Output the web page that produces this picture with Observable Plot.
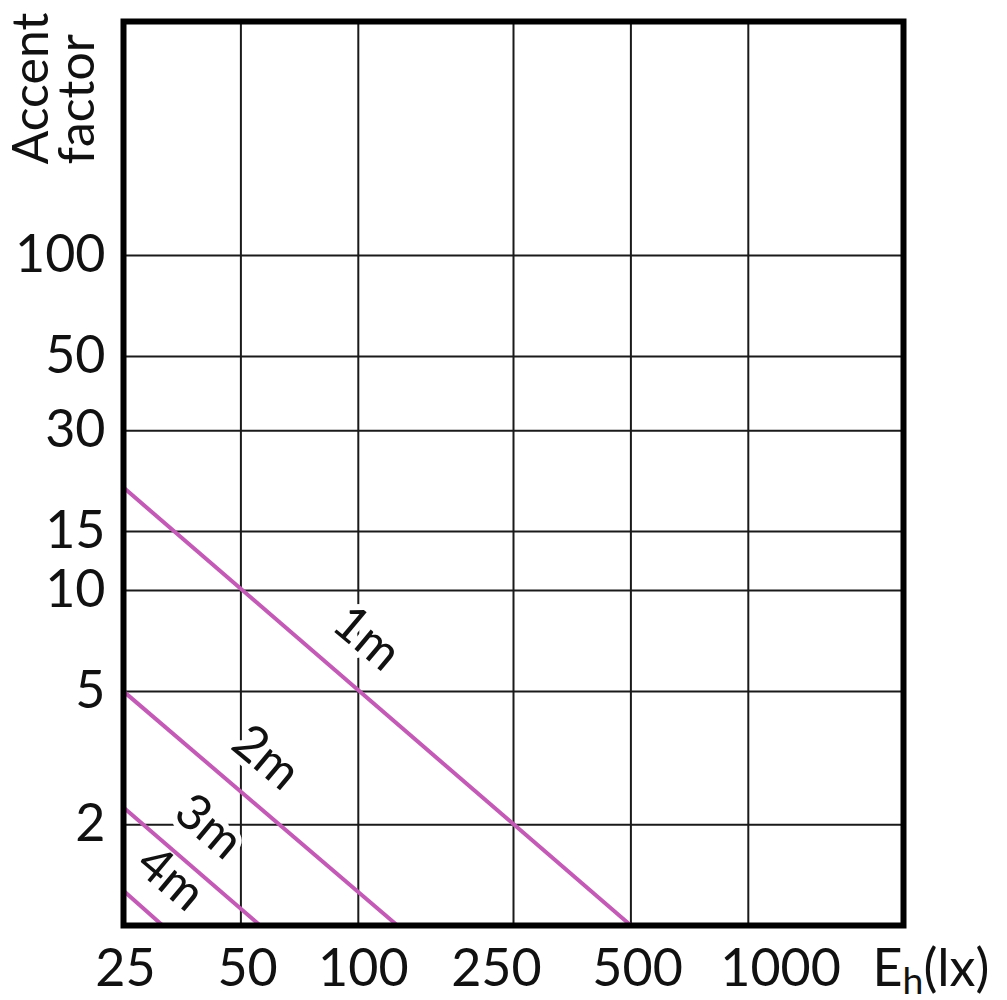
<!DOCTYPE html>
<html><head><meta charset="utf-8">
<script src="https://cdn.jsdelivr.net/npm/d3@7"></script>
<script src="https://cdn.jsdelivr.net/npm/@observablehq/plot@0.6"></script>
<style>html,body{margin:0;padding:0;background:#fff;overflow:hidden}</style>
</head><body><div id="chart"></div>
<script>
// Tick values (grid lines)
const xTicks = [25, 50, 100, 250, 500, 1000];
const yTicks = [2, 5, 10, 15, 30, 50, 100];
// Where each x tick label is centred (250 and 1000 sit off their lines)
const xTickLabelAt = [25.3, 52, 103, 226, 520, 1210];
// Series: mounting distance, start and end of each straight log-log line
const distances = ["1m", "2m", "3m", "4m"];
const startLux = [25, 25, 25, 25];
const startFactor = [20.3, 5.0, 2.25, 1.27];
const endLux = [500, 126, 56, 31.5];
const endFactor = [1, 1, 1, 1];
// Label anchor positions
const labelLux = [105, 58, 41.3, 33];
const labelFactor = [7.2, 3.17, 1.97, 1.38];

const lines = distances.map((d, i) => ({d, x1: startLux[i], y1: startFactor[i], x2: endLux[i], y2: endFactor[i]}));
const labels = distances.map((d, i) => ({d, x: labelLux[i], y: labelFactor[i]}));
const xLabels = xTicks.map((t, i) => ({t: String(t), x: xTickLabelAt[i]}));

const FONT = "Lato";
const FS = 52;

const chart = Plot.plot({
  width: 1007,
  height: 1000,
  marginLeft: 123,
  marginRight: 104,
  marginTop: 21,
  marginBottom: 75,
  style: {fontFamily: FONT, fontSize: FS + "px", color: "#111", background: "#fff"},
  x: {type: "log", domain: [25, 2500], axis: null},
  y: {type: "log", domain: [1, 500]},
  marks: [
    Plot.gridX(xTicks, {stroke: "#1a1a1a", strokeOpacity: 1, strokeWidth: 2}),
    Plot.gridY(yTicks, {stroke: "#1a1a1a", strokeOpacity: 1, strokeWidth: 2}),
    Plot.text(xLabels, {x: "x", frameAnchor: "bottom", text: "t", lineAnchor: "top", dy: 24, fontSize: FS, fill: "#111"}),
    Plot.axisY(yTicks, {tickSize: 0, tickPadding: 18, tickFormat: d => String(d), label: null, fontSize: FS}),
    Plot.text(labels, {x: "x", y: "y", text: "d", rotate: 40, fontSize: 50, fill: "#111", stroke: "white", strokeWidth: 12}),
    Plot.link(lines, {x1: "x1", y1: "y1", x2: "x2", y2: "y2", stroke: "#c25ab6", strokeWidth: 4}),
    Plot.frame({stroke: "#000", strokeWidth: 6}),
    Plot.text(["Accent\nfactor"], {frameAnchor: "top-left", rotate: -90, textAnchor: "start", lineAnchor: "top", lineHeight: 0.93, dx: -109, dy: 143, fontSize: 50, fill: "#111"}),
    Plot.text(["Eh(lx)"], {frameAnchor: "bottom-right", textAnchor: "start", lineAnchor: "top", dx: -31, dy: 24, fontSize: FS, fill: "#111"})
  ]
});
document.getElementById("chart").appendChild(chart);

// Subscript h in the x-axis label
d3.select(chart).selectAll("text").filter(function() { return this.textContent === "Eh(lx)"; })
  .each(function() {
    const t = d3.select(this);
    const y0 = this.getAttribute("y");
    t.text(null);
    const e = t.append("tspan").text("E");
    if (y0) e.attr("y", y0);
    t.append("tspan").attr("font-size", "0.72em").attr("dy", "0.2em").text("h");
    t.append("tspan").attr("dy", "-0.144em").text("(lx)");
  });
</script>
</body></html>
